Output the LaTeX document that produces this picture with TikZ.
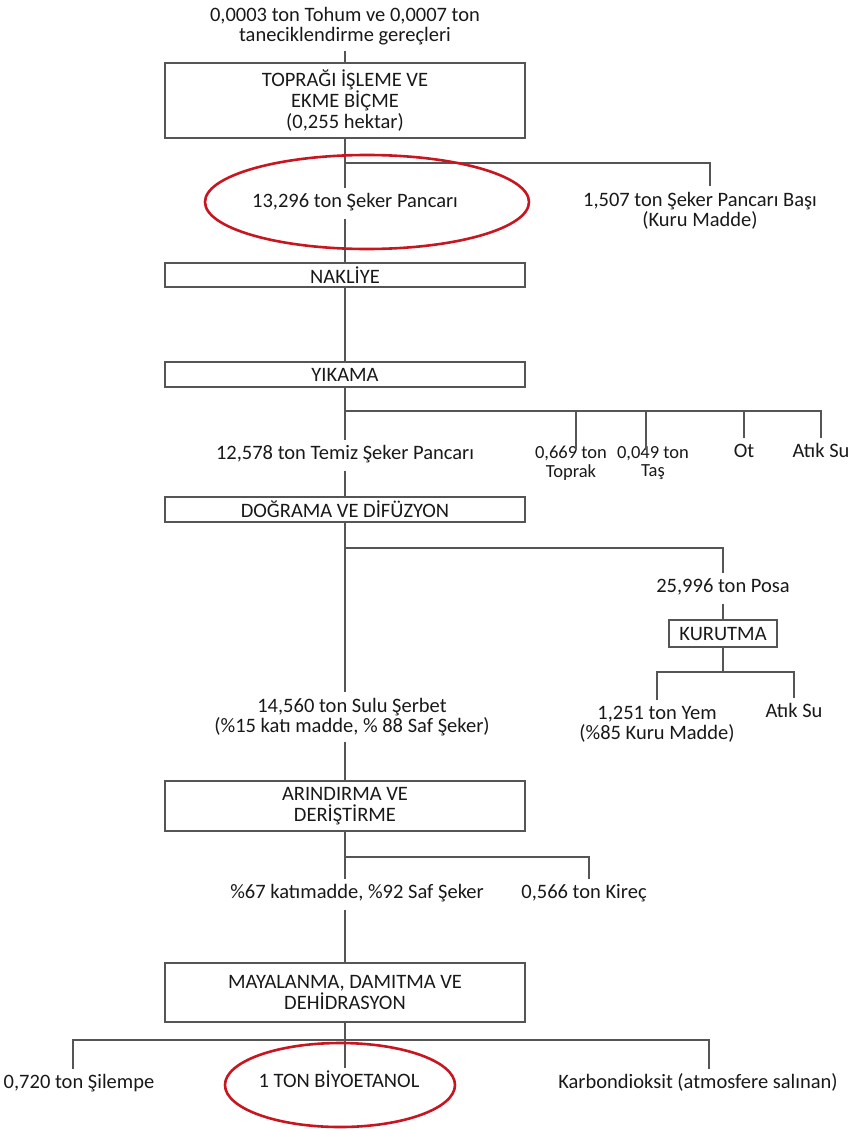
\documentclass[tikz,border=0pt]{standalone}
\usepackage{fontspec}
\setmainfont{Carlito}
\definecolor{kirmizi}{RGB}{200,22,32}
\definecolor{cizgi}{RGB}{85,85,85}

\begin{document}
\begin{tikzpicture}[x=1pt,y=-1pt,
        hat/.style={draw=cizgi,line width=1.6pt},
        kutu/.style={draw=cizgi,line width=2pt,minimum width=360pt,align=center,text=black!90,
            font=\fontsize{20.5}{21}\selectfont,inner sep=2pt},
        etiket/.style={align=center,text=black!90,font=\fontsize{20.5}{20}\selectfont,
            inner sep=2pt,outer sep=4pt},
        tek/.style={etiket,text height=14pt,text depth=5pt},
        dar/.style={etiket,inner sep=0pt,outer sep=0pt,font=\fontsize{18.5}{18.5}\selectfont},
        halka/.style={draw=kirmizi,line width=2.6pt}]
    \useasboundingbox (0,0) rectangle (852,1129);
    % ana akis
    \node[etiket] (tohum) at (345,26.5) {0,0003 ton Tohum ve 0,0007 ton\\taneciklendirme gereçleri};
    \node[kutu,minimum height=75pt] (toprak) at (345,100.5) {TOPRAĞI İŞLEME VE\\EKME BİÇME\\(0,255 hektar)};
    \node[tek] (pancar) at (355,203) {13,296 ton Şeker Pancarı};
    \node[etiket] (bas) at (700,211) {1,507 ton Şeker Pancarı Başı\\(Kuru Madde)};
    \node[kutu,minimum height=24pt] (nakliye) at (345,275) {NAKLİYE};
    \node[kutu,minimum height=25pt] (yikama) at (345,374.5) {YIKAMA};
    \node[tek] (temiz) at (345,455) {12,578 ton Temiz Şeker Pancarı};
    \node[dar] (toprak2) at (571,463) {0,669 ton\\Toprak};
    \node[dar] (tas) at (653,463) {0,049 ton\\Taş};
    \node[tek] (ot) at (744,453) {Ot};
    \node[tek] (atik1) at (821,453) {Atık Su};
    \node[kutu,minimum height=25pt] (dograma) at (345,509.5) {DOĞRAMA VE DİFÜZYON};
    \node[tek] (posa) at (723,588) {25,996 ton Posa};
    \node[kutu,minimum width=108pt,minimum height=27pt] (kurutma) at (723,633.5) {KURUTMA};
    \node[etiket] (yem) at (657,724.5) {1,251 ton Yem\\(\%85 Kuru Madde)};
    \node[tek] (atik2) at (794,713) {Atık Su};
    \node[etiket] (serbet) at (352,717) {14,560 ton Sulu Şerbet\\(\%15 katı madde, \% 88 Saf Şeker)};
    \node[kutu,minimum height=50pt] (arindirma) at (345,806) {ARINDIRMA VE\\DERİŞTİRME};
    \node[tek] (katimadde) at (357,894) {\%67 katımadde, \%92 Saf Şeker};
    \node[tek] (kirec) at (584,894) {0,566 ton Kireç};
    \node[kutu,minimum height=59pt] (maya) at (345,992.5) {MAYALANMA, DAMITMA VE\\DEHİDRASYON};
    \node[tek] (silempe) at (79,1084) {0,720 ton Şilempe};
    \node[tek] (etanol) at (339,1083) {1 TON BİYOETANOL};
    \node[tek] (co2) at (698,1084) {Karbondioksit (atmosfere salınan)};

    % omurga
    \draw[hat] (tohum) -- (toprak);
    \draw[hat] (toprak) -- (toprak |- pancar.north);
    \draw[hat] (toprak |- pancar.south) -- (nakliye);
    \draw[hat] (nakliye) -- (yikama);
    \draw[hat] (yikama) -- (temiz);
    \draw[hat] (temiz) -- (dograma);
    \draw[hat] (dograma) -- (dograma |- serbet.north);
    \draw[hat] (dograma |- serbet.south) -- (arindirma);
    \draw[hat] (arindirma) -- (arindirma |- katimadde.north);
    \draw[hat] (arindirma |- katimadde.south) -- (maya);
    \draw[hat] (maya) -- (maya |- etanol.north);

    % yan dallar
    \coordinate (j1) at (345,163);
    \coordinate (j2) at (345,411);
    \coordinate (j3) at (345,548);
    \coordinate (j4) at (723,672);
    \coordinate (j5) at (345,857);
    \coordinate (j6) at (345,1040);
    \draw[hat] (j1) -| ([xshift=10pt]bas.north);
    \foreach \n/\d/\u in {toprak2/5/-4, tas/-7/-4, ot/0/0, atik1/0/0}
        \draw[hat] (j2) -| ([xshift=\d pt,yshift=\u pt]\n.north);
    \draw[hat] (j3) -| (posa);
    \draw[hat] (posa) -- (kurutma);
    \draw[hat] (kurutma) -- (j4);
    \draw[hat] (yem) |- (j4) -| (atik2);
    \draw[hat] (j5) -| ([xshift=5pt]kirec.north);
    \draw[hat] (j6) -| ([xshift=-6pt]silempe.north);
    \draw[hat] (j6) -| ([xshift=11pt]co2.north);

    % kirmizi halkalar
    \draw[halka] (367,202) ellipse [x radius=162, y radius=47];
    \draw[halka] (340,1085) ellipse [x radius=115, y radius=42];
\end{tikzpicture}
\end{document}
